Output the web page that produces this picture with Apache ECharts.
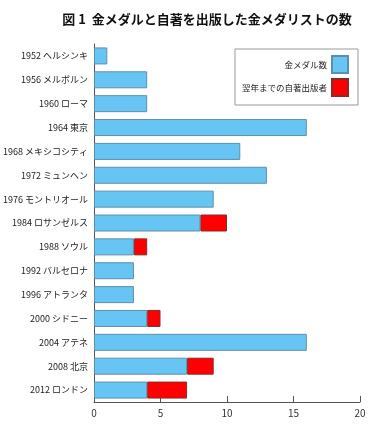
<!DOCTYPE html>
<html>
<head>
<meta charset="utf-8">
<script src="https://cdn.jsdelivr.net/npm/echarts@6/dist/echarts.min.js"></script>
<style>
  html, body { margin: 0; padding: 0; background: #fff; }
  #chart { width: 377px; height: 427px; }
</style>
</head>
<body>
<div id="chart"></div>
<script>
// 大会名（上から順）
const games = [
  '1952 ヘルシンキ', '1956 メルボルン', '1960 ローマ', '1964 東京',
  '1968 メキシコシティ', '1972 ミュンヘン', '1976 モントリオール',
  '1984 ロサンゼルス', '1988 ソウル', '1992 バルセロナ', '1996 アトランタ',
  '2000 シドニー', '2004 アテネ', '2008 北京', '2012 ロンドン'
]
// 金メダル数
const goldMedals = [1, 4, 4, 16, 11, 13, 9, 8, 3, 3, 3, 4, 16, 7, 4]
// 翌年までの自著出版者
const authors = [0, 0, 0, 0, 0, 0, 0, 2, 1, 0, 0, 1, 0, 2, 3]
const xTicks = [0, 5, 10, 15, 20]

const font = '"Noto Sans CJK JP", "Noto Sans", sans-serif'
const chart = echarts.init(document.getElementById('chart'))

const option = {
  animation: false,
  textStyle: { fontFamily: font },
  title: {
    text: '図 1  金メダルと自著を出版した金メダリストの数',
    left: 202,
    textAlign: 'center',
    top: 8,
    textStyle: { fontSize: 13, fontWeight: 'bold', color: '#111', fontFamily: font }
  },
  legend: {
    orient: 'vertical',
    right: 19,
    top: 49,
    align: 'right',
    icon: 'rect',
    itemWidth: 16,
    itemHeight: 17,
    itemGap: 4,
    padding: [6, 9, 8, 7],
    borderColor: '#999',
    borderWidth: 1,
    textStyle: { fontSize: 8.5, color: '#222', fontFamily: font },
    data: ['金メダル数', '翌年までの自著出版者']
  },
  grid: { left: 94, right: 17, top: 44, bottom: 25, outerBoundsMode: 'none', containLabel: false },
  xAxis: {
    type: 'value',
    min: xTicks[0],
    max: xTicks[xTicks.length - 1],
    interval: 5,
    axisLine: { show: true, lineStyle: { color: '#555' } },
    axisTick: { show: true, inside: true, length: 6, lineStyle: { color: '#555' } },
    axisLabel: { color: '#333', fontSize: 10, margin: 6 },
    splitLine: { show: false }
  },
  yAxis: {
    type: 'category',
    inverse: true,
    data: games,
    axisLine: { show: true, lineStyle: { color: '#555' } },
    axisTick: { show: false },
    axisLabel: { color: '#222', fontSize: 9, margin: 6 }
  },
  series: [
    {
      name: '金メダル数',
      type: 'bar',
      stack: 'total',
      barWidth: 17,
      itemStyle: { color: '#66c5f2', borderColor: '#5e8fae', borderWidth: 1 },
      data: goldMedals
    },
    {
      name: '翌年までの自著出版者',
      type: 'bar',
      stack: 'total',
      barWidth: 17,
      itemStyle: { color: '#ff0000', borderColor: '#8a2a2a', borderWidth: 1 },
      // 0 の大会は描かない
      data: authors.map(v => (v === 0 ? '-' : v))
    }
  ]
}
chart.setOption(option)
</script>
</body>
</html>
